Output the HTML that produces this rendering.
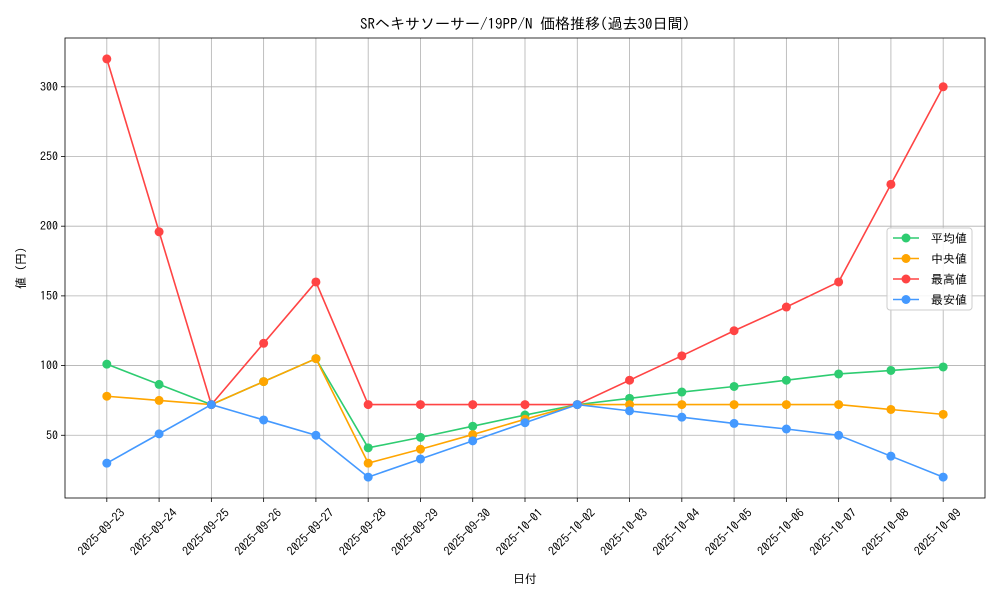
<!DOCTYPE html>
<html><head><meta charset="utf-8"><style>
body{margin:0;background:#fff;}
svg text{font-family:"IPAGothic","Noto Sans CJK JP",sans-serif;fill:#000;}
</style></head><body>
<svg id="chart" width="1000" height="600" xmlns="http://www.w3.org/2000/svg">
<rect width="1000" height="600" fill="#fff"/>
<text x="525" y="29" font-size="15" text-anchor="middle">SRヘキサソーサー/19PP/N 価格推移(過去30日間)</text>
<g id="grid"></g><g id="axes"></g><g id="series"></g>
<text x="525" y="583" font-size="12" text-anchor="middle">日付</text>
<text transform="translate(25,268) rotate(-90)" font-size="12" text-anchor="middle">値 (円)</text>
<g id="legend"></g>
</svg>
<script>
const categories=["2025-09-23","2025-09-24","2025-09-25","2025-09-26","2025-09-27","2025-09-28","2025-09-29","2025-09-30","2025-10-01","2025-10-02","2025-10-03","2025-10-04","2025-10-05","2025-10-06","2025-10-07","2025-10-08","2025-10-09"];
const avgValues=[101,86.5,72,88.5,105,41,48.5,56.5,64.5,72,76.5,81,85,89.5,94,96.5,99];
const medianValues=[78,75,72,88.5,105,30,40,50.5,61.5,72,72,72,72,72,72,68.5,65];
const maxValues=[320,196,72,116,160,72,72,72,72,72,89.5,107,125,142,160,230,300];
const minValues=[30,51,72,61,50,20,33,46,59,72,67.5,63,58.5,54.5,50,35,20];
const yTicks=[50,100,150,200,250,300];
const seriesNames=["平均値","中央値","最高値","最安値"];
const seriesColors=["#2ecc71","#ffa500","#ff4444","#4499ff"];

const NS="http://www.w3.org/2000/svg";
const L=65,R=985,T=38,B=498;
const all=[].concat(avgValues,medianValues,maxValues,minValues);
const dmin=Math.min(...all),dmax=Math.max(...all),pad=(dmax-dmin)*0.05;
const y0=dmin-pad,y1=dmax+pad;
const n=categories.length,xpad=(n-1)*0.05;
const xs=i=>L+(i+xpad)/(n-1+2*xpad)*(R-L);
const ys=v=>B-(v-y0)/(y1-y0)*(B-T);
function mk(tag,attrs,parent){const e=document.createElementNS(NS,tag);for(const k in attrs)e.setAttribute(k,attrs[k]);parent.appendChild(e);return e;}
const grid=document.getElementById('grid'),axes=document.getElementById('axes'),ser=document.getElementById('series'),leg=document.getElementById('legend');
categories.forEach((c,i)=>{
  const x=xs(i);
  const g=mk('line',{x1:x,x2:x,y1:T,y2:B,stroke:'#b0b0b0','stroke-width':0.8},grid);
  
  
  mk('line',{x1:x,x2:x,y1:B,y2:B+4,stroke:'#000','stroke-width':0.8},axes);
  const t=mk('text',{transform:`translate(${x+13},${B+10}) rotate(-45)`,'font-size':12,'text-anchor':'end','dominant-baseline':'hanging'},axes);
  t.textContent=c;
  
  
});
yTicks.forEach(v=>{
  const y=ys(v);
  const g=mk('line',{x1:L,x2:R,y1:y,y2:y,stroke:'#b0b0b0','stroke-width':0.8},grid);
  
  
  mk('line',{x1:L-4,x2:L,y1:y,y2:y,stroke:'#000','stroke-width':0.8},axes);
  const t=mk('text',{x:L-7,y:y+4,'font-size':12,'text-anchor':'end'},axes);
  t.textContent=v;
  
  
});
const fr=mk('rect',{x:L,y:T,width:R-L,height:B-T,fill:'none',stroke:'#000','stroke-width':0.8},axes);


[avgValues,medianValues,maxValues,minValues].forEach((vals,si)=>{
  const col=seriesColors[si];
  const pl=mk('polyline',{points:vals.map((v,i)=>xs(i)+','+ys(v)).join(' '),fill:'none',stroke:col,'stroke-width':1.6},ser);
  
  
  vals.forEach((v,i)=>{
    const c=mk('circle',{cx:xs(i),cy:ys(v),r:4.5,fill:col},ser);
    
    
  });
});
const lb=mk('rect',{x:887,y:228,width:85,height:82,rx:3,fill:'#fff','fill-opacity':0.85,stroke:'#ccc'},leg);


seriesNames.forEach((nm,i)=>{
  const y=238+i*20.5;
  mk('line',{x1:893,x2:919,y1:y,y2:y,stroke:seriesColors[i],'stroke-width':1.6},leg);
  mk('circle',{cx:906,cy:y,r:4.5,fill:seriesColors[i]},leg);
  const t=mk('text',{x:931,y:y+4.5,'font-size':12},leg);
  t.textContent=nm;
  
  
});
</script>
</body></html>
